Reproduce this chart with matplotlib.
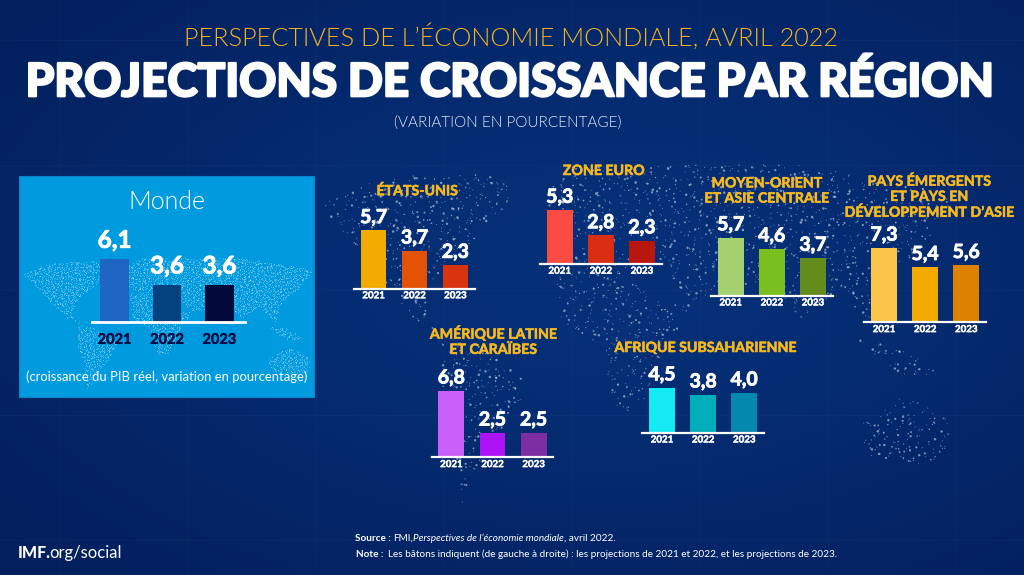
import matplotlib
matplotlib.use("Agg")
import matplotlib.pyplot as plt
import matplotlib.patheffects as pe
import numpy as np
from matplotlib.path import Path
from matplotlib.patches import Rectangle

W, H = 1024, 575
FONT = "Lato"

# Chart data
years = ["2021", "2022", "2023"]
monde = [6.1, 3.6, 3.6]
etats_unis = [5.7, 3.7, 2.3]
zone_euro = [5.3, 2.8, 2.3]
moyen_orient = [5.7, 4.6, 3.7]
asie = [7.3, 5.4, 5.6]
amerique_latine = [6.8, 2.5, 2.5]
afrique = [4.5, 3.8, 4.0]

colors_monde = ["#1f66c4", "#04427f", "#020a3c"]
colors_usa = ["#f4ab00", "#e35205", "#d8340f"]
colors_euro = ["#fb4b43", "#d92e12", "#b9170e"]
colors_mo = ["#a5d070", "#78bf1f", "#648c1c"]
colors_asie = ["#fbc54b", "#f4ab00", "#dc8200"]
colors_al = ["#c860f8", "#ad14f5", "#7d2ea3"]
colors_af = ["#14eaf2", "#00aebb", "#0588ad"]

# Rough outlines of the continents for the dotted map, in picture pixels
north_america = [(318, 205), (380, 178), (480, 172), (520, 190), (470, 245), (440, 270),
                 (425, 310), (450, 335), (420, 325), (385, 285), (350, 240)]
south_america = [(440, 340), (480, 345), (530, 385), (505, 430), (480, 465), (462, 505), (455, 440), (440, 390)]
europe = [(545, 190), (580, 165), (640, 165), (640, 235), (590, 250), (555, 245)]
africa = [(555, 255), (625, 250), (650, 300), (690, 305), (660, 360), (640, 410), (615, 415), (600, 345), (560, 320)]
asia = [(640, 165), (800, 165), (960, 195), (925, 245), (890, 280), (875, 330), (840, 290),
        (800, 320), (770, 280), (720, 300), (690, 300), (650, 250)]
australia = [(860, 425), (905, 395), (950, 420), (950, 455), (920, 465), (865, 455)]
islands = [(855, 340), (900, 345), (940, 375), (900, 375)]
continents = [north_america, south_america, europe, africa, asia, australia, islands]


def map_dots(step):
    # lattice with a hashed offset so that the dots do not look like a grid
    xs, ys = np.meshgrid(np.arange(310, 1000, step), np.arange(160, 510, step))
    xs, ys = xs.ravel().astype(float), ys.ravel().astype(float)
    h1 = (np.sin(xs * 12.9898 + ys * 78.233) * 43758.5453) % 1
    h2 = (np.sin(xs * 39.346 + ys * 11.135) * 24634.6345) % 1
    h3 = (np.sin(xs * 73.156 + ys * 52.235) * 9631.271) % 1
    xs = xs + (h1 - 0.5) * step * 2.5
    ys = ys + (h2 - 0.5) * step * 2.5
    pts = np.column_stack([xs, ys])
    inside = np.zeros(len(pts), dtype=bool)
    for poly in continents:
        inside |= Path(poly).contains_points(pts)
    return xs[inside], ys[inside], h3[inside]


def add_panel(fig, x0, x1, base_y, values, colors, scale=10.2, xlim=(-0.48, 2.48), bar_w=0.63,
              label_size=14, label_gap=5.2, tick_size=7, line_w=1.6, tick_color="white", tick_pad=2):
    top = max(values) * 1.4
    ax = fig.add_axes([x0 / W, 1 - base_y / H, (x1 - x0) / W, top * scale / H])
    ax.set_facecolor("none")
    ax.bar(range(3), values, width=bar_w, color=colors, edgecolor="none", zorder=2)
    ax.set_xlim(*xlim)
    ax.set_ylim(0, top)
    for i, v in enumerate(values):
        ax.annotate(f"{v:.1f}".replace(".", ","), (i, v), xytext=(0, label_gap), textcoords="offset points",
                    ha="center", va="baseline", color="white", fontsize=label_size,
                    fontweight="bold", family=FONT,
                    path_effects=[pe.withStroke(linewidth=0.6, foreground="white")])
    for s in ["top", "left", "right"]:
        ax.spines[s].set_visible(False)
    ax.spines["bottom"].set_color("white")
    ax.spines["bottom"].set_linewidth(line_w)
    ax.set_yticks([])
    ax.set_xticks(range(3))
    labels = ax.set_xticklabels(years, fontsize=tick_size, fontweight="bold", family=FONT, color=tick_color)
    plt.setp(labels, path_effects=[pe.withStroke(linewidth=0.3, foreground=tick_color)])
    ax.tick_params(axis="x", length=0, pad=tick_pad)
    return ax


fig = plt.figure(figsize=(W / 100, H / 100), dpi=100)
bg = fig.add_axes([0, 0, 1, 1])
bg.set_xlim(0, W)
bg.set_ylim(H, 0)
bg.axis("off")

# Navy background, a bit lighter towards the middle
yy, xx = np.mgrid[0:H:144j, 0:W:256j]
glow = np.exp(-(((xx - 600) / 620) ** 2 + ((yy - 270) / 340) ** 2))
dark, light = np.array([3, 28, 88]), np.array([6, 48, 120])
img = dark + (light - dark) * glow[..., None]
bg.imshow(img.astype(np.uint8), extent=(0, W, H, 0), aspect="auto", interpolation="bilinear", zorder=0)
bg.set_xlim(0, W)
bg.set_ylim(H, 0)

# Faint grid behind the map
for gx in np.arange(60, W, 128):
    bg.plot([gx, gx], [0, H], color="#ffffff", alpha=0.025, lw=0.8, zorder=1)
for gy in np.arange(40, H, 125):
    bg.plot([0, W], [gy, gy], color="#ffffff", alpha=0.025, lw=0.8, zorder=1)

dx, dy, dh = map_dots(6)
bg.scatter(dx, dy, s=0.5 + 3 * dh ** 4, color="#dbe7f7", alpha=0.55, linewidths=0, zorder=2)

# World box on the left with its own little map
bg.add_patch(Rectangle((18.5, 176), 295.5, 221, facecolor="#009ade", edgecolor="#0a84c8", lw=0.8, zorder=3))
mdx, mdy, mdh = map_dots(4)
mx = 18.5 + (mdx - 310) * 295 / 650
my = 258 + (mdy - 165) * 132 / 340
keep = mx < 313
bg.scatter(mx[keep], my[keep], s=0.7, color="#ffffff", alpha=0.28, linewidths=0, zorder=4)

# Titles
bg.text(511, 37, "PERSPECTIVES DE L’ÉCONOMIE MONDIALE, AVRIL 2022", ha="center", va="center",
        color="#f4b41f", fontsize=18.2, family=FONT, fontweight=300, zorder=5)
bg.text(510, 83, "PROJECTIONS DE CROISSANCE PAR RÉGION", ha="center", va="center",
        color="white", fontsize=33, family=FONT, fontweight="black", zorder=5,
        path_effects=[pe.withStroke(linewidth=1.6, foreground="white")])
bg.text(508, 123, "(VARIATION EN POURCENTAGE)", ha="center", va="center",
        color="#e6edf8", fontsize=11, family=FONT, fontweight=300, zorder=5)

# Monde box texts
bg.text(167, 202, "Monde", ha="center", va="center", color="white", fontsize=18, family=FONT,
        fontweight=300, zorder=5)
bg.text(167, 377, "(croissance du PIB réel, variation en pourcentage)", ha="center", va="center",
        color="white", fontsize=9.4, family=FONT, zorder=5)

# Region headings
headings = [
    (417, 191, "ÉTATS-UNIS"),
    (603.5, 171, "ZONE EURO"),
    (766.5, 191, "MOYEN-ORIENT\nET ASIE CENTRALE"),
    (929, 197, "PAYS ÉMERGENTS\nET PAYS EN\nDÉVELOPPEMENT D’ASIE"),
    (493, 341, "AMÉRIQUE LATINE\nET CARAÏBES"),
    (705, 348, "AFRIQUE SUBSAHARIENNE"),
]
for hx, hy, txt in headings:
    bg.text(hx, hy, txt, ha="center", va="center", color="#f5b81f", fontsize=10.2, family=FONT,
            fontweight="bold", linespacing=1.32, zorder=5,
            path_effects=[pe.withStroke(linewidth=0.4, foreground="#f5b81f")])

# Footer
bg.text(17.5, 553, "IMF.", ha="left", va="center", color="white", fontsize=11.4, family=FONT, fontweight="black", zorder=5)
bg.text(49, 553, "org/social", ha="left", va="center", color="white", fontsize=12, family=FONT, zorder=5)
bg.text(355, 538.5, "Source :", ha="left", va="center", color="white", fontsize=7.2, family=FONT, fontweight="bold", zorder=5)
bg.text(393, 538.5, "FMI,", ha="left", va="center", color="white", fontsize=7.2, family=FONT, zorder=5)
bg.text(413, 538.5, "Perspectives de l’économie mondiale", ha="left", va="center", color="white", fontsize=7.2,
        family=FONT, style="italic", zorder=5)
bg.text(564, 538.5, ", avril 2022.", ha="left", va="center", color="white", fontsize=7.2, family=FONT, zorder=5)
bg.text(356.5, 554.3, "Note :", ha="left", va="center", color="white", fontsize=7.2, family=FONT, fontweight="bold", zorder=5)
bg.text(388, 554.3, "Les bâtons indiquent (de gauche à droite) : les projections de 2021 et 2022, et les projections de 2023.",
        ha="left", va="center", color="white", fontsize=7.2, family=FONT, zorder=5)

# One small bar chart per region
add_panel(fig, 92, 245, 321.7, monde, colors_monde, scale=10.3, xlim=(-0.43, 2.49), bar_w=0.55,
          label_size=17.5, label_gap=8, tick_size=10.5, line_w=2, tick_color="#050f45", tick_pad=8)
add_panel(fig, 354, 475, 288.5, etats_unis, colors_usa)
add_panel(fig, 540, 661.7, 264, zone_euro, colors_euro)
add_panel(fig, 711, 832.7, 295.7, moyen_orient, colors_mo)
add_panel(fig, 864.3, 986, 322.3, asie, colors_asie)
add_panel(fig, 431.7, 553.3, 457.3, amerique_latine, colors_al, scale=9.8)
add_panel(fig, 642.3, 764, 432.7, afrique, colors_af, scale=10)

fig.savefig("out.png", dpi=100)
